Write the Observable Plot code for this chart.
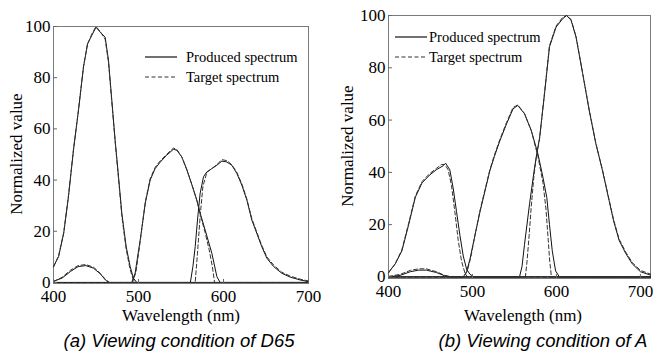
<!DOCTYPE html>
<html><head><meta charset="utf-8">
<script src="https://cdn.jsdelivr.net/npm/d3@7"></script>
<script src="https://cdn.jsdelivr.net/npm/@observablehq/plot@0.6"></script>
<style>
body{margin:0;background:#fff;}
#wrap{position:relative;width:653px;height:355px;overflow:hidden;background:#fff;}
#wrap > svg{position:absolute;}
</style></head><body><div id="wrap"></div>
<script>
// ---------- data: [wavelength nm, normalized value] ----------
const xTicks = [400, 500, 600, 700];
const yTicks = [0, 20, 40, 60, 80, 100];
const legendLabels = ["Produced spectrum", "Target spectrum"];
const xTitle = "Wavelength (nm)";
const yTitle = "Normalized value";
const captions = ["(a) Viewing condition of D65", "(b) Viewing condition of A"];

// Panel (a) D65 - produced
const d65ProdBlue = [[400,6.2],[406,10.1],[412,19.2],[417.6,33.5],[423.5,51.7],[429.4,67.3],[435.3,84.2],[440,93.2],[445,96.5],[450,99.7],[455,97.8],[460.8,95.8],[464.7,86.8],[468.6,71.2],[472.5,55.6],[476.5,41.3],[480.4,27],[485.5,14],[490.2,6.2],[494,1.7],[498,0],[700,0]];
const d65ProdBump = [[400,0.5],[410,1.7],[420,4.3],[429,6.2],[438,6.6],[447,5.6],[455,3.4],[461,1],[465,0],[700,0]];
const d65ProdGreen = [[400,0],[492,0],[496,3.6],[502,16.6],[508,31],[513.7,40],[519.6,44.5],[525.5,47],[533,49.7],[541,52],[545,51.7],[551,49],[557,43.9],[563,38],[568.6,32.2],[573.5,26],[578.4,20.5],[586.3,11.4],[592.2,2.3],[596,0],[700,0]];
const d65ProdRed = [[400,0],[561,0],[564,6.2],[566.7,14],[569.4,24.4],[572.5,34.8],[576.5,41.3],[580.4,43.2],[586.3,44.5],[592.2,45.8],[598,47.4],[603.9,47.1],[609.8,45.8],[615.7,42.6],[621.6,38],[627.5,32.2],[633.3,24.4],[639.2,19.2],[645,14],[651,9.5],[659,6.2],[668.6,3.6],[678.4,2.1],[690,1],[700,0.3]];
// Panel (a) D65 - target
const d65TargBlue = [[400,6],[406,10.5],[412,19.5],[417.6,34],[423.5,52],[429.4,67.5],[435.3,84.5],[440,93],[445,97],[450,100],[455,98],[460.8,95],[464.7,86],[468.6,70.5],[472.5,55],[476.5,40.5],[480.4,26],[485.5,13],[490.2,5],[494,1],[497,0],[700,0]];
const d65TargBump = [[400,0.3],[410,2],[420,4.8],[429,6.6],[438,7],[447,6],[455,3.6],[461,1.2],[466,0],[700,0]];
const d65TargGreen = [[400,0],[493,0],[497,4],[502,16],[508,31.5],[513.7,40.5],[519.6,45],[525.5,47.5],[533,50],[541,52.5],[545,52],[551,49],[557,44],[563,38],[568.6,32],[573.5,25.5],[578.4,19.5],[583,13],[587,6],[589.5,0],[700,0]];
const d65TargRed = [[400,0],[566.7,0],[569.4,11.4],[572.5,25.7],[575.7,37.4],[580.4,43],[586.3,44.5],[592.2,46],[598,48],[603.9,47.6],[609.8,46],[615.7,43],[621.6,38.5],[627.5,32.5],[633.3,25],[639.2,19.6],[645,14.5],[651,10],[659,6.8],[668.6,4],[678.4,2.5],[690,1.3],[700,0.6]];

// Panel (b) A - produced
const aProdBlue = [[400,1.7],[408,5],[416,10],[424,20],[432,30.5],[440,36],[449,39],[457,41],[465,42.5],[468,43.5],[473,41],[477,34],[481,25],[485,16],[489,8],[493,3],[497,1],[502,0],[712,0]];
const aProdBump = [[400,0],[414,0.6],[426,2],[436,2.6],[445,2.6],[457,1.7],[467,0.4],[475,0],[712,0]];
const aProdGreen = [[400,0],[489,0],[493,2],[497,6.8],[503,16],[509,25],[515,33],[520.7,40.6],[526,46],[532.5,52],[540.5,58.5],[548.3,64.3],[554,65.6],[562,62.4],[570,56],[578,47],[584,38],[588.5,30.4],[591.7,20],[595,10],[599,2.3],[603.5,0],[712,0]];
const aProdRed = [[400,0],[556,0],[559,4],[562,12.5],[568,28],[574,42],[580,53.4],[585.8,70],[591.7,88],[599.6,95.6],[607.5,98.8],[612.2,100],[617.4,98.2],[623.3,91.8],[631.2,77.8],[639,63.7],[647,50.9],[654.8,40.7],[662.7,29.2],[668,21.5],[674.6,14],[682.5,9],[690.3,5],[700,2],[712,0.7]];
// Panel (b) A - target
const aTargBlue = [[400,1.5],[408,5],[416,10.5],[424,20.5],[432,31],[440,36.5],[449,39.5],[457,41.5],[463,43],[467,43],[471,41],[475,35],[479,25],[483,14],[487,6],[491,1.5],[494,0],[712,0]];
const aTargBump = [[400,0.2],[414,1],[426,2.5],[436,3.1],[445,3.1],[457,2],[467,0.6],[476,0],[712,0]];
const aTargGreen = [[400,0],[490,0],[494,2.5],[498,7.5],[503,16],[509,25.5],[515,33.5],[520.7,41],[526,46.5],[532.5,52.5],[540.5,59],[548.3,64.8],[554,65.8],[562,62.5],[570,56],[578,46],[584,36],[587.5,26],[590,15],[592,6],[594,0],[712,0]];
const aTargRed = [[400,0],[563,0],[565,6],[567.5,16],[570,27],[573,38],[576,46],[580,53],[585.8,70.5],[591.7,88.5],[599.6,96],[607.5,99.3],[612.2,100],[617.4,98.5],[623.3,92],[631.2,78],[639,64],[647,51],[654.8,41],[662.7,29.5],[668,22],[674.6,14.5],[682.5,9.5],[690.3,5.5],[700,2.5],[712,1.1]];

// ---------- drawing ----------
const wrap = document.getElementById("wrap");
const serif = "Liberation Serif, Times New Roman, serif";
const sans = "Liberation Sans, Arial, sans-serif";
const DASH = "4,2.5";

function panel({produced, target, xDomain, yDomain, left, width, height, margin}) {
  const marks = [Plot.frame({stroke: "#7a7a7a"})];
  for (const s of produced) marks.push(Plot.line(s, {x: d => d[0], y: d => d[1], stroke: "#111", strokeWidth: 1}));
  for (const s of target) marks.push(Plot.line(s, {x: d => d[0], y: d => d[1], stroke: "#333", strokeWidth: 1, strokeDasharray: DASH}));
  marks.push(Plot.axisX(xTicks, {tickSize: -4, tickPadding: 10.5, stroke: "#666", fill: "#000", label: null,
    fontFamily: serif, fontSize: 17, tickFormat: d => String(d)}));
  marks.push(Plot.axisY(yTicks, {tickSize: -4, tickPadding: 7, stroke: "#666", fill: "#000", label: null,
    fontFamily: serif, fontSize: 17, tickFormat: d => String(d)}));
  const svg = Plot.plot({
    width, height,
    marginLeft: margin[0], marginRight: margin[1], marginTop: margin[2], marginBottom: margin[3],
    x: {domain: xDomain},
    y: {domain: yDomain},
    style: {fontFamily: serif, fontSize: "17px", background: "transparent", color: "#000", overflow: "visible"},
    marks
  });
  svg.style.left = left + "px";
  svg.style.top = "0px";
  wrap.appendChild(svg);
}

panel({
  produced: [d65ProdBlue, d65ProdBump, d65ProdGreen, d65ProdRed],
  target: [d65TargBlue, d65TargBump, d65TargGreen, d65TargRed],
  xDomain: [400, 700], yDomain: [-0.4, 100],
  left: 0, width: 330, height: 300, margin: [53, 22, 26, 17]
});
panel({
  produced: [aProdBlue, aProdBump, aProdGreen, aProdRed],
  target: [aTargBlue, aTargBump, aTargGreen, aTargRed],
  xDomain: [400, 712], yDomain: [-0.6, 100],
  left: 330, width: 323, height: 300, margin: [58, 3, 15, 22]
});

// overlay: legends, axis titles, captions
const ov = d3.select(wrap).append("svg").attr("width", 653).attr("height", 355)
  .style("left", "0px").style("top", "0px").style("pointer-events", "none");

function legend(x0, x1, tx, y0, gap) {
  legendLabels.forEach((lab, i) => {
    const y = y0 + i * gap;
    ov.append("line").attr("x1", x0).attr("x2", x1).attr("y1", y).attr("y2", y)
      .attr("stroke", i ? "#333" : "#111").attr("stroke-width", 1.2)
      .attr("stroke-dasharray", i ? DASH : null);
    ov.append("text").attr("x", tx).attr("y", y).attr("dominant-baseline", "central")
      .style("font-family", serif).attr("font-size", 14.5).attr("fill", "#000").text(lab);
  });
}
legend(145, 177, 186, 57, 20);
legend(395, 427, 429, 37, 20);

[[181, 315], [523, 315]].forEach(([x, y]) => {
  ov.append("text").attr("x", x).attr("y", y).attr("text-anchor", "middle").attr("dominant-baseline", "central")
    .style("font-family", serif).attr("font-size", 17).attr("fill", "#000").text(xTitle);
});
[[16, 154], [347, 146]].forEach(([x, y]) => {
  ov.append("text").attr("transform", `translate(${x},${y}) rotate(-90)`).attr("text-anchor", "middle")
    .attr("dominant-baseline", "central").style("font-family", serif).attr("font-size", 17).attr("fill", "#000").text(yTitle);
});
[[179, 340], [543, 340]].forEach(([x, y], i) => {
  ov.append("text").attr("x", x).attr("y", y).attr("text-anchor", "middle").attr("dominant-baseline", "central")
    .style("font-family", sans).attr("font-style", "italic")
    .attr("font-size", 18.5).attr("fill", "#000").text(captions[i]);
});
</script></body></html>
